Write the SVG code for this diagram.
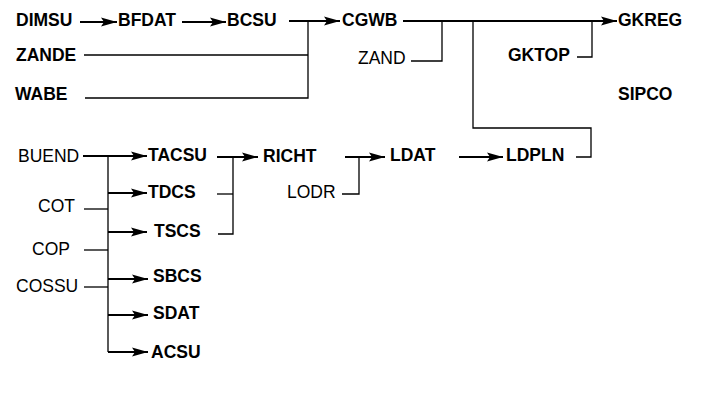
<svg xmlns="http://www.w3.org/2000/svg" width="707" height="400" viewBox="0 0 707 400">
<style>
text{font-family:"Liberation Sans",Arial,sans-serif;font-size:17.5px;fill:#000}
.b{font-weight:bold}
.thin{fill:none;stroke:#000;stroke-width:1.3}
.arr{fill:none;stroke:#000;stroke-width:2;marker-end:url(#ah)}
</style>
<defs>
<marker id="ah" markerUnits="userSpaceOnUse" markerWidth="17" markerHeight="11" refX="16" refY="5" orient="auto">
<path d="M0,0.5 L16,5 L0,9.5 L3,5 Z" fill="#000"/>
</marker>
</defs>
<rect width="707" height="400" fill="#fff"/>
<g id="connectors">
<path class="arr" d="M80,22 H117"/>
<path class="arr" d="M182,22 H226"/>
<path class="arr" d="M289,21 H340"/>
<path class="thin" d="M84,55 H308"/>
<path class="thin" d="M85,98 H308 V21"/>
<path class="arr" d="M403,21 H617"/>
<path class="thin" d="M411,61 H442 V21"/>
<path class="thin" d="M473,21 V128 H591 V157 H576"/>
<path class="thin" d="M577,57 H592 V21"/>
<path class="arr" d="M83,156 H147"/>
<path class="thin" d="M108,156 V352"/>
<path class="arr" d="M108,193 H147"/>
<path class="arr" d="M108,232 H147"/>
<path class="arr" d="M108,279 H148"/>
<path class="arr" d="M108,315 H148"/>
<path class="arr" d="M108,352 H148"/>
<path class="thin" d="M84,209 H108"/>
<path class="thin" d="M84,250 H108"/>
<path class="thin" d="M84,287 H108"/>
<path class="arr" d="M217,157 H258"/>
<path class="thin" d="M233,157 V234 H218"/>
<path class="thin" d="M217,194 H233"/>
<path class="arr" d="M345,157 H385"/>
<path class="thin" d="M359,157 V194 H342"/>
<path class="arr" d="M459,157 H503"/>
</g>
<g id="DIMSU"><text class="b" x="16" y="26">DIMSU</text></g>
<g id="BFDAT"><text class="b" x="118" y="26">BFDAT</text></g>
<g id="BCSU"><text class="b" x="227" y="26">BCSU</text></g>
<g id="ZANDE"><text class="b" x="16" y="61">ZANDE</text></g>
<g id="WABE"><text class="b" x="15" y="100">WABE</text></g>
<g id="CGWB"><text class="b" x="342" y="26">CGWB</text></g>
<g id="ZAND"><text x="358" y="64">ZAND</text></g>
<g id="GKREG"><text class="b" x="618" y="26">GKREG</text></g>
<g id="GKTOP"><text class="b" x="508" y="61">GKTOP</text></g>
<g id="SIPCO"><text class="b" x="618" y="100">SIPCO</text></g>
<g id="BUEND"><text x="18" y="162">BUEND</text></g>
<g id="TACSU"><text class="b" x="148" y="161">TACSU</text></g>
<g id="TDCS"><text class="b" x="148" y="198">TDCS</text></g>
<g id="TSCS"><text class="b" x="154" y="237">TSCS</text></g>
<g id="SBCS"><text class="b" x="153" y="282">SBCS</text></g>
<g id="SDAT"><text class="b" x="153" y="319">SDAT</text></g>
<g id="ACSU"><text class="b" x="151" y="358">ACSU</text></g>
<g id="COT"><text x="38" y="212">COT</text></g>
<g id="COP"><text x="32" y="255">COP</text></g>
<g id="COSSU"><text x="16" y="292">COSSU</text></g>
<g id="RICHT"><text class="b" x="263" y="162">RICHT</text></g>
<g id="LODR"><text x="287" y="198">LODR</text></g>
<g id="LDAT"><text class="b" x="390" y="161">LDAT</text></g>
<g id="LDPLN"><text class="b" x="506" y="161">LDPLN</text></g>
</svg>
